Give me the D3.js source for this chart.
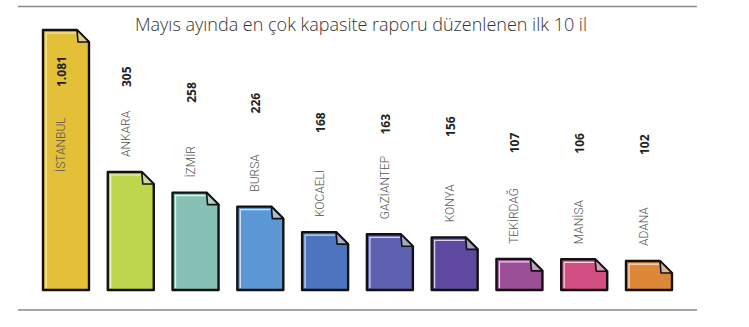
<!DOCTYPE html>
<html><head><meta charset="utf-8">
<script src="https://cdn.jsdelivr.net/npm/d3@7"></script>
<style>body{margin:0;background:#fff}svg{display:block}</style>
</head><body>
<script>
const cities = ["İSTANBUL","ANKARA","İZMİR","BURSA","KOCAELİ","GAZİANTEP","KONYA","TEKİRDAĞ","MANİSA","ADANA"];
const values = [1081,305,258,226,168,163,156,107,106,102];
const valueLabels = ["1.081","305","258","226","168","163","156","107","106","102"];
const colors = ["#e4bf38","#bdd64b","#87c0b4","#5c98d5","#4c74bf","#5e61af","#5f49a0","#9b4f97","#d24f84","#dd8839"];
const title = "Mayıs ayında en çok kapasite raporu düzenlenen ilk 10 il";

const W = 749, H = 327;
const svg = d3.select("body").append("svg").attr("width", W).attr("height", H);

const x = d3.scaleBand().domain(cities).range([43, 672]).paddingInner(0.29).paddingOuter(0);
// broken scale: the largest bar is compressed above the second value
const breakV = values[1];
const y = d3.scaleLinear().domain([36, breakV, values[0]]).range([290, 172, 30]);
const valY = d3.scaleLinear().domain([102, breakV]).range([155, 87]).clamp(true);

svg.append("line").attr("x1", 18).attr("x2", 697).attr("y1", 6.5).attr("y2", 6.5)
  .attr("stroke", "#8a8a8a").attr("stroke-width", 1.5);
svg.append("line").attr("x1", 18).attr("x2", 697).attr("y1", 310).attr("y2", 310)
  .attr("stroke", "#8a8a8a").attr("stroke-width", 1.5);

svg.append("text").attr("x", 361).attr("y", 31).attr("text-anchor", "middle")
  .attr("font-family", "Open Sans").attr("font-weight", 300).attr("font-size", 18).attr("fill", "#333")
  .text(title);

const data = cities.map((c, i) => ({c, v: values[i], lab: valueLabels[i], col: colors[i]}));
const base = y.range()[0];
const corner = 12;

const g = svg.selectAll("g.bar").data(data).join("g").attr("class", "bar");

g.append("path")
  .attr("d", d => {
    const x0 = x(d.c), x1 = x(d.c) + x.bandwidth(), y0 = y(d.v);
    return `M${x0},${y0}L${x1-corner},${y0}L${x1},${y0+corner}L${x1},${base}L${x0},${base}Z`;
  })
  .attr("fill", d => d.col).attr("stroke", "#111").attr("stroke-width", 2.4).attr("stroke-linejoin", "round");

g.append("path")
  .attr("d", d => {
    const x0 = x(d.c) + 3, x1 = x(d.c) + x.bandwidth(), y0 = y(d.v) + 3;
    return `M${x0},${base-2}L${x0},${y0}L${x1-corner-1},${y0}`;
  })
  .attr("fill", "none").attr("stroke", "#fff").attr("stroke-opacity", 0.75).attr("stroke-width", 1.2);

g.append("path")
  .attr("d", d => {
    const x1 = x(d.c) + x.bandwidth(), y0 = y(d.v);
    return `M${x1-corner},${y0}L${x1-corner+1},${y0+corner}L${x1},${y0+corner}Z`;
  })
  .attr("fill", d => d3.interpolateRgb(d.col, "#d8d8d8")(0.6))
  .attr("stroke", "#111").attr("stroke-width", 1.6).attr("stroke-linejoin", "round");

g.append("text")
  .attr("transform", d => `translate(${x(d.c) + x.bandwidth()/2},${valY(d.v)}) rotate(-90)`)
  .attr("font-family", "Open Sans").attr("font-weight", 700).attr("font-size", 12).attr("fill", "#222")
  .text(d => d.lab);

g.append("text")
  .attr("transform", d => {
    const yy = d.v > breakV ? y(breakV) : y(d.v) - 15;
    return `translate(${x(d.c) + x.bandwidth()/2 - 1},${yy}) rotate(-90)`;
  })
  .attr("font-family", "Roboto").attr("font-weight", 300).attr("font-size", 12).attr("fill", "#555")
  .text(d => d.c);
</script>
</body></html>
